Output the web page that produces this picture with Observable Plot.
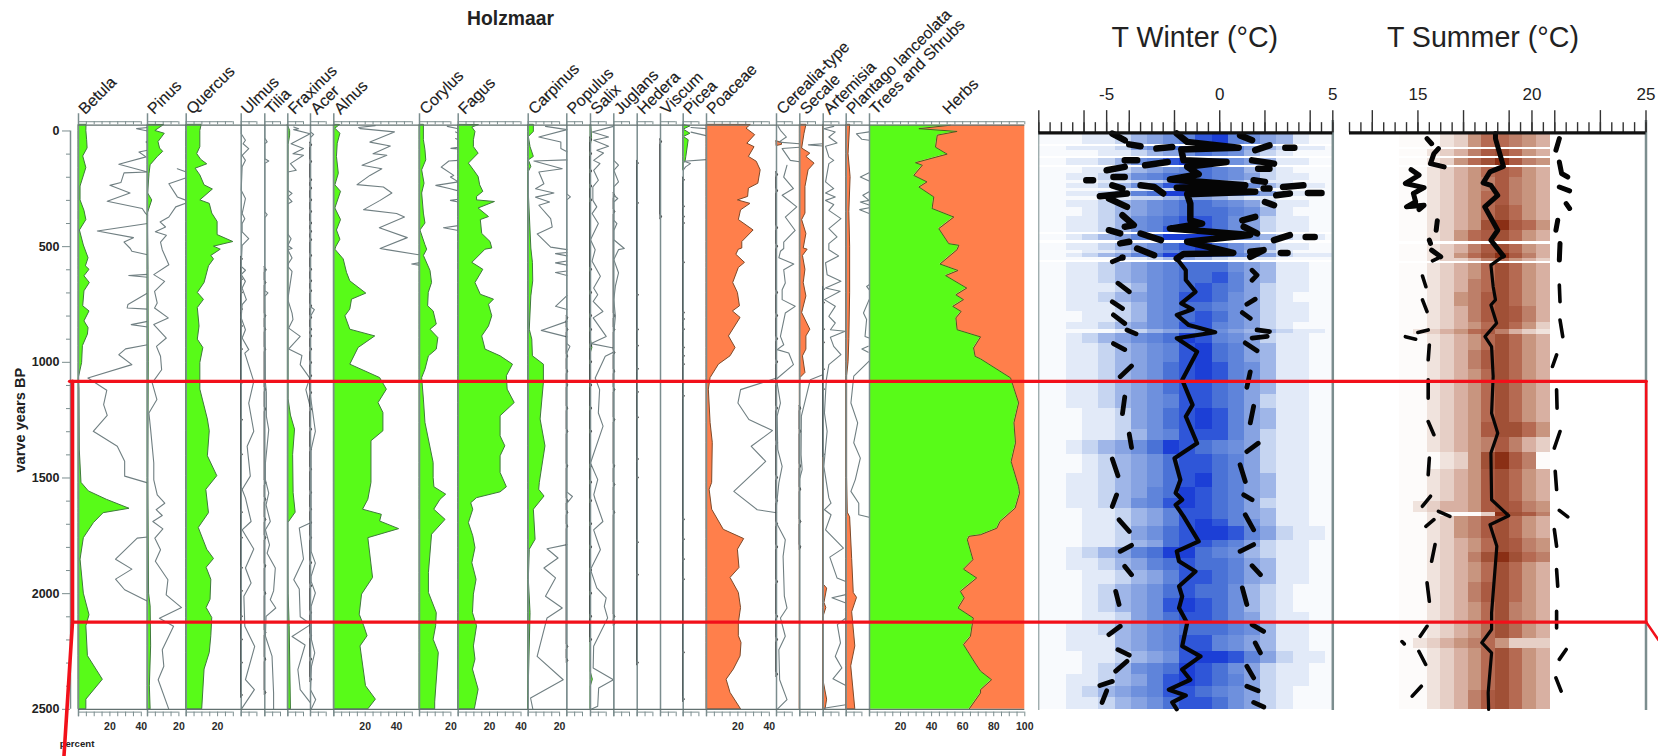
<!DOCTYPE html>
<html><head><meta charset="utf-8">
<style>html,body{margin:0;padding:0;background:#fff;overflow:hidden}#fig{position:relative;width:1658px;height:756px;overflow:hidden}</style>
<script src="https://cdn.jsdelivr.net/npm/d3@7"></script>
<script src="https://cdn.jsdelivr.net/npm/@observablehq/plot@0.6"></script>
</head><body><div id="fig"></div>
<script>
// ---------- pollen series: [age BP, percent]; a null value is a break in the line
const betula=[[-25,5.1],[0,5],[40,5.5],[75,5.8],[110,3],[160,5],[240,1.3],[300,1.3],[345,3.8],[385,5],[430,.9],[495,3.4],[550,6.4],[585,4.7],[600,7],[628,3.8],[657,7.2],[693,3.8],[758,3],[780,7],[823,3.8],[852,6.4],[880,6],[930,2.8],[1003,2.3],[1068,.2],[1118,.6],[1377,.8],[1521,1.9],[1558,6.6],[1594,18],[1633,32.5],[1652,16],[1695,9.8],[1760,3.4],[1853,1.3],[2000,3.4],[2093,7],[2141,5],[2270,6],[2372,15.5],[2458,5],[2500,5]];
const betulaX=[[-15,44],[-10,37],[0,44],[0,null],[44,44],[48,43],[52,44],[52,null],[83,44],[91,38.5],[112,43],[144,25.7],[177,44],[181,29],[223,27],[235,20],[268,32.8],[304,18.3],[335,40.6],[357,42.8],[364,44],[364,null],[400,44],[432,12],[461,35],[480,29],[508,33],[520,34],[535,44],[535,null],[620,44],[625,32],[632,44],[632,null],[700,44],[750,31.5],[765,31],[770,44],[770,null],[823,44],[837,33.6],[847,44],[847,null],[924,44],[942,30],[967,25.7],[1010,34],[1068,6],[1121,18],[1183,16],[1229,18.3],[1298,9.4],[1363,24.7],[1428,29.4],[1492,29.4],[1521,44],[1521,null],[1755,44],[1760,37.4],[1851,23.6],[1894,34],[1937,23.6],[1983,29.4],[2033,44]];
const pinus=[[-25,10.4],[0,5],[12,11],[48,7],[76,8],[90,10],[112,6.6],[148,2],[185,1.3],[270,.4],[300,3],[357,.2],[600,.6],[1000,.8],[1500,.5],[2000,1],[2055,2],[2228,2.3],[2400,1.5],[2500,2]];
const pinusX=[[163,19],[177,24.7],[177,null],[202,24.7],[228,13.6],[285,19],[300,24.7],[300,null],[311,24.7],[328,18],[372,13.6],[393,8],[415,11.5],[436,5],[451,12],[480,8.3],[513,9.4],[578,13.6],[621,4],[650,10.9],[693,4.5],[744,6.2],[765,4.5],[808,13.2],[837,4],[895,12],[931,5.7],[974,8.3],[1032,9],[1089,3],[1161,6],[1219,.9],[1291,2],[1435,4],[1508,4],[1573,6.2],[1609,11],[1637,5.5],[1662,9.4],[1688,3.4],[1720,9.8],[1760,4.7],[1810,8.3],[1860,5],[1940,13],[2005,11.9],[2060,21.7],[2106,7.6],[2141,16.6],[2242,9.4],[2314,10.4],[2372,6.8],[2500,13.6]];
const quercus=[[-25,9.8],[0,9],[70,9],[100,7],[125,9.6],[144,13.4],[163,6],[192,9],[235,11.7],[253,17],[300,9],[315,15],[357,16.6],[393,20],[450,20],[480,30],[500,17.7],[513,22],[540,16],[555,17.7],[585,14.5],[657,11.7],[700,7.4],[730,11.3],[765,7.4],[845,8.5],[902,7.4],[938,10.9],[1003,9],[1118,9],[1161,10.6],[1247,13.8],[1298,15],[1406,13.8],[1492,19.8],[1551,12.8],[1652,14.5],[1716,8],[1810,13.4],[1850,17.7],[1888,13],[1940,16],[2026,15.5],[2062,13],[2105,16.6],[2184,16],[2256,15],[2328,11.7],[2500,10.2]];
const ulmusX=[[-25,0],[12,0],[40,2.7],[55,1.2],[76,4.8],[105,.6],[127,2.7],[155,.6],[256,0],[292,2.7],[357,.6],[379,2.3],[400,.6],[436,.6],[465,4.8],[494,.6],[585,0],[602,2.7],[621,0],[650,2.7],[679,.6],[729,3.3],[751,.6],[808,0],[859,2.7],[895,.6],[945,4.8],[960,2.3],[1082,8],[1176,4.8],[1298,8],[1363,3.8],[1492,5.8],[1550,.6],[1586,2.7],[1688,6.3],[1724,.6],[1807,8],[1889,2.7],[1954,6.3],[2011,1.7],[2141,2.3],[2228,8.6],[2372,2.7],[2415,8.4],[2500,0]];
const tiliaX=[[-25,0],[30,0],[47,1.5],[55,0],[120,0],[130,2.5],[140,0],[350,0],[362,1.5],[375,0],[590,0],[600,1],[610,0],[690,0],[700,2],[715,0],[1089,.4],[1130,1],[1233,1],[1291,2.5],[1435,.4],[1508,.4],[1565,2.5],[1616,.8],[1688,3.5],[1724,.4],[1789,3],[1825,1.5],[1889,6.7],[1988,5.6],[2026,3.5],[2062,7],[2098,.8],[2184,.4],[2270,4.6],[2429,5.6],[2500,5.6]];
const fraxinus=[[-25,0],[0,1.5],[20,1.5],[60,.5],[300,.4],[1160,.5],[1230,2],[1291,4.6],[1400,3.4],[1565,3.7],[1650,5],[1695,.3],[2000,.5],[2140,1.2],[2500,2]];
const fraxinusX=[[-17,3.75],[-10,6.9],[-6,3.75],[12,14.2],[55,2.1],[76,10],[98,3.3],[105,10],[141,1.7],[170,5.4],[177,0],[256,0],[270,2.7],[285,0],[305,2.7],[316,0],[445,0],[466,2.1],[495,0],[508,2.7],[513,0],[549,2.7],[570,.6],[585,0],[607,2.7],[729,0],[787,2.7],[815,3.3],[852,.6],[888,7.9],[942,.6],[970,9],[1010,7.9],[1068,14],[1118,11.5],[1190,14.2],[1190,null],[1695,14.2],[1716,7.3],[1850,10],[1940,3.8],[1980,7.3],[2100,7.9],[2130,14.2],[2130,null],[2135,14.2],[2185,2.7],[2222,11],[2328,6.4],[2415,7.9],[2470,14.2]];
const acerX=[[-25,0],[4,0],[15,2],[29,0],[760,0],[772,2.5],[801,0],[1147,0],[1298,3.1],[1377,.4],[1817,.4],[1868,3.1],[1925,.4],[1947,.4],[1997,3.1],[2055,.4],[2199,.6],[2256,2.7],[2314,.6],[2415,0],[2458,3.3],[2500,.4]];
const alnus=[[-25,3.8],[-10,1],[12,4.2],[55,2.5],[112,2],[185,3.2],[235,1],[263,4.6],[335,1],[385,4.6],[430,2],[470,4.2],[500,1.7],[513,1],[555,6.3],[613,8.4],[650,10.5],[703,20.7],[729,11.6],[772,10.5],[801,7.4],[859,10.5],[888,26.4],[938,15.8],[1010,10.5],[1068,29.5],[1118,33.8],[1176,28.5],[1219,31.6],[1298,31.6],[1341,24],[1521,24],[1594,22],[1637,18.6],[1659,30.6],[1688,29.5],[1721,41.6],[1760,22],[1932,25],[2004,18],[2091,16.5],[2141,19.4],[2184,21.5],[2228,17],[2400,20.5],[2458,26.8],[2500,22]];
const alnusX=[[-23,26.4],[-15,15.8],[-10,17],[4,38.6],[48,23],[65,36],[98,25],[105,33.8],[148,18],[163,30.6],[192,23],[232,14.8],[242,31.6],[268,37],[300,29.5],[340,19],[357,40],[372,45],[418,29],[461,46.8],[508,29.5],[513,33.8],[535,54],[535,null],[570,54],[575,49.6],[580,54]];
const corylus=[[-25,2.8],[40,2.8],[83,3.8],[127,4.3],[170,1.7],[228,3.2],[270,1.7],[357,2.8],[400,3.8],[430,.6],[494,3.8],[513,4.9],[540,2.8],[605,7],[657,8],[700,5.9],[758,5.5],[780,9],[837,11],[859,7],[895,12],[945,11],[974,6],[1032,3.8],[1068,1.7],[1161,2.8],[1262,3.8],[1435,9],[1500,9],[1540,9.5],[1572,17],[1594,13.4],[1637,9.4],[1681,16.6],[1745,8],[1911,6],[1997,6],[2084,11],[2141,10.6],[2199,9],[2256,12.3],[2470,10],[2500,10]];
const corylusX=[[-20,17.7],[-10,24.7],[-10,null],[4,23],[10,24.7],[10,null],[33,23],[38,24.7],[38,null],[70,24.7],[75,20],[78,24.7],[78,null],[127,24.7],[130,18.7],[156,13.8],[192,21.8],[199,19.7],[220,24.7],[235,10.4],[249,19],[259,24.7],[259,null],[295,24.7],[300,19.7],[307,24.7],[307,null],[409,24.7],[418,15.3],[430,24.7]];
const fagus=[[-25,13],[-15,9],[4,11],[40,10],[70,10],[98,13],[141,6.8],[170,10],[199,13],[235,14],[263,16],[285,12],[300,12],[307,23.4],[335,13],[372,19.6],[385,14.4],[445,15.3],[480,20.6],[508,21.7],[513,17.4],[570,9],[600,16],[657,11],[708,14.4],[729,22.8],[751,19.6],[801,21.7],[845,19.6],[888,15.3],[945,17.4],[974,27],[1010,34.9],[1060,31],[1118,31.5],[1176,36],[1233,27],[1320,27],[1363,30],[1406,27],[1478,27],[1540,31],[1562,27],[1587,12],[1609,8.3],[1637,9.6],[1695,6.8],[1752,9.6],[1803,11],[1868,9],[1940,11.7],[2004,10],[2084,9.4],[2141,12],[2228,10],[2285,11],[2328,9.4],[2415,13],[2500,10.6]];
const carpinus=[[-25,3.6],[4,3.6],[26,.4],[70,1.5],[112,3.6],[127,.4],[155,2],[177,.4],[270,.4],[508,2],[570,3],[650,3.2],[715,2],[859,1],[902,2.6],[974,3],[1010,10],[1089,10],[1247,7.9],[1363,11],[1521,7.4],[1551,7],[1580,10.4],[1637,3.6],[1767,4.7],[1810,1],[1940,.4],[2084,1.5],[2444,.2],[2500,0]];
const carpinusX=[[-20,11],[-6,24.7],[26,6.8],[48,20.8],[76,20.8],[90,24.7],[90,null],[125,24.7],[130,3.6],[163,21.7],[177,6.8],[228,10],[250,4.7],[268,16.4],[286,4.7],[307,13.6],[321,6.8],[379,14.3],[415,15.3],[445,5.7],[502,14.3],[513,24.7],[513,null],[525,24.7],[530,17.4],[540,24.7],[540,null],[562,24.7],[570,17.4],[580,24.7],[580,null],[605,24.7],[612,17.4],[625,24.7],[625,null],[712,24.7],[758,17.4],[772,24.7],[772,null],[823,24.7],[862,8.3],[890,24.7],[890,null],[1788,24.7],[1806,12],[1846,19],[1889,10],[1932,17.4],[2011,11],[2062,21.7],[2105,12],[2271,5.7],[2372,22.3],[2451,1.5],[2500,3]];
const populusX=[[-25,0],[272,0],[285,2.3],[298,0],[918,0],[931,2],[960,0],[1560,0],[1580,3.6],[1610,0],[2500,0]];
const salix=[[-25,.5],[30,1],[60,.3],[900,.2],[938,1.2],[960,.2],[2340,.2],[2372,1.5],[2400,.2],[2500,.2]];
const salixX=[[-20,14.6],[4,1],[26,11.5],[40,2],[66,11.5],[83,4],[95,8.3],[127,2],[141,6],[170,2],[213,5],[242,1.5],[300,1.5],[328,4],[357,1],[400,5],[470,0],[513,3],[563,1],[628,6.3],[679,2],[708,4.6],[737,1.7],[780,7.9],[808,1.7],[888,10],[919,.4],[938,14.6],[938,null],[956,14.6],[974,9.4],[1068,3],[1118,5.8],[1219,5],[1276,8],[1435,0],[1507,4.6],[1572,2.1],[1593,3],[1688,7.9],[1724,2],[1810,6.3],[1896,0],[1975,4],[2018,10],[2055,8.8],[2105,10.9],[2227,2],[2321,1.7],[2372,14.6],[2408,5.2],[2487,4.6],[2500,.4]];
const juglansX=[[-25,0],[127,0],[148,3],[170,0],[220,3],[242,0],[278,0],[292,2.5],[307,0],[385,0],[400,2],[430,0],[470,0],[508,6.7],[513,3],[556,0],[613,3],[671,1],[729,0],[801,1],[873,0],[2500,0]];
const picea=[[-25,.5],[-20,4.6],[-6,.3],[12,4.6],[26,.4],[40,3.5],[112,2],[133,1.5],[141,.4],[170,.2]];
const piceaX=[[-15,5],[-10,14.6],[-10,null],[5,5],[20,14.6],[20,null],[124,14.6],[131,.5],[141,4.6],[155,1.5],[170,0]];
const poaceae=[[-25,28],[-10,25.5],[18,31],[55,26],[70,30.6],[112,27],[133,32],[170,34.5],[228,33],[249,27],[285,26.5],[300,20],[315,28],[343,22],[385,20.6],[430,30],[480,22.8],[508,22.8],[513,20.6],[535,19],[570,24.5],[592,20.6],[657,17],[700,20],[758,21.3],[780,16.8],[808,21.7],[888,14.3],[938,18.5],[974,15.3],[1010,7.9],[1068,2.6],[1118,1.5],[1262,2.6],[1348,4],[1521,3.6],[1551,2],[1637,3.6],[1724,11],[1764,24],[1810,20],[1889,21],[1932,15.3],[1997,20.6],[2062,22],[2127,20.6],[2184,20.6],[2213,22.3],[2271,21.7],[2328,17.4],[2372,12.8],[2429,15.3],[2500,22]];
const poaceaeX=[[1068,44.7],[1118,21.7],[1176,20],[1247,27],[1295,42],[1363,28.5],[1428,37.7],[1558,17.4],[1637,32.3],[1650,44.7]];
const cerealia=[[45,0],[50,3.5],[60,3.5],[65,0]];
const cerealiaX=[[-20,1],[-3,2.5],[26,6.3],[48,1.5],[55,14.6],[55,null],[70,14.6],[76,3.6],[127,8.8],[133,14.6],[133,null],[148,6.7],[199,4.6],[249,10.8],[278,3.6],[328,12.9],[372,5.6],[430,11.9],[480,4.6],[508,4.6],[520,2.5],[548,1.5],[575,11],[600,4.6],[657,5.6],[686,3.6],[729,3.6],[758,11.9],[787,5.6],[888,2.5],[924,4.6],[945,.4],[960,7.8],[1010,10.8],[1072,0],[1176,2.5],[1233,.4],[1377,.8],[1450,3.6],[1521,1.5],[1620,0],[1695,0],[1767,5.6],[1839,4.2],[2011,5],[2062,6.7],[2105,2.5],[2184,5.6],[2242,1.5],[2372,2],[2458,6.7],[2500,.4]];
const secale=[[-25,4.2],[12,3],[76,1.5],[98,6.7],[112,4.2],[141,9.4],[170,5.6],[242,3.6],[357,3.6],[385,1.5],[445,4.2],[508,2.5],[513,5],[540,2],[600,3.6],[657,2.5],[715,4.2],[787,1.5],[859,6.7],[888,4.2],[945,4.2],[974,2],[1046,3.6],[1068,.4],[1120,.2],[2500,0]];
const secaleX=[[55,14.6],[60,5.5],[65,14.6],[65,null],[1054,14.6],[1075,6.7],[1161,3.6],[1233,1],[1400,.8],[1464,1.5],[1500,0]];
const artemisia=[[-25,.2],[1960,.2],[1978,2.5],[2040,.8],[2062,2],[2098,.3],[2380,.3],[2458,2.5],[2500,1.5]];
const artemisiaX=[[-20,6.7],[-10,.4],[4,7.7],[26,3.6],[52,8.8],[66,1.5],[112,3.6],[127,6.7],[141,3.6],[220,1.5],[249,6.7],[268,1.5],[285,7.7],[300,1.5],[318,6.7],[343,3.6],[379,11.3],[422,3.6],[458,8.8],[487,3.6],[513,3.6],[540,9.8],[570,1.5],[621,2.5],[650,11.3],[679,1.5],[693,10.8],[729,.8],[758,7.7],[801,3.6],[830,7.7],[859,4.6],[866,14],[892,4.6],[931,6.7],[967,11.3],[1010,3.6],[1075,2],[1219,.8],[1298,2.5],[1450,.4],[1586,3.6],[1609,5],[1637,.8],[1659,5],[1724,1.5],[1803,12.9],[1842,4.2],[1932,8.8],[1947,14.4],[1947,null],[2004,14.4],[2018,5.6],[2040,14.4],[2040,null],[2105,14.4],[2134,9],[2213,11],[2271,7.7],[2321,11.9],[2368,6.2],[2397,14.4],[2397,null],[2480,14.4],[2495,.4]];
const plantago=[[-25,2.5],[100,1.5],[200,2.8],[350,2],[500,2.5],[700,2.5],[900,2],[1000,1.5],[1060,.6],[1500,.6],[1650,1],[1670,2.5],[1850,3.8],[1997,4.8],[2018,6.9],[2080,3.8],[2228,5.8],[2314,3.2],[2500,5.8]];
const plantagoX=[[4,14.6],[12,6.5],[36,10],[40,14.6],[40,null],[181,14.6],[199,9],[216,14.6],[216,null],[263,14.6],[278,10.6],[300,14.6],[307,9],[320,14.6],[320,null],[332,14.6],[340,8.6],[357,14.6],[357,null],[665,14.6],[672,13],[686,14.6],[686,null],[729,14.6],[787,11],[815,13],[888,12],[895,14.6],[895,null],[930,14],[942,10],[956,14],[956,null],[995,14.6],[1060,4.8],[1176,3],[1262,7.3],[1348,4.8],[1414,9],[1507,5.8],[1558,3],[1609,8],[1659,8],[1670,14.6]];
const trees=[[-25,52],[-10,31.8],[2,56.4],[18,43.6],[70,42.5],[100,50],[137,29.6],[148,34],[192,28.5],[220,37],[242,31.8],[285,41.4],[335,40.3],[372,54.3],[422,44.6],[487,51],[494,57.5],[513,56.4],[575,45.4],[603,57],[625,49],[679,62.6],[708,55.6],[729,60.5],[758,53.6],[780,59],[808,55.6],[859,56.4],[890,71.5],[938,67],[974,68],[985,71.5],[1067,90.8],[1175,96],[1261,93],[1348,94],[1429,91.2],[1537,96],[1565,96.6],[1630,93.8],[1688,84],[1717,82],[1745,71.5],[1752,64],[1767,63],[1853,66.6],[1894,60.5],[1932,69],[1990,58.5],[2018,61],[2062,57],[2105,66.8],[2184,65],[2220,60.5],[2300,68],[2335,71.5],[2372,78.6],[2415,71.5],[2429,71.5],[2500,64]];
// ages of the short dark marks that sit on the zero line of the rare taxa
const ulmusMarks=[555,643,700,772,845,945,1090,1250,1400,1550,1650,1760,1890,1990,2100,2200,2300,2440];
const tiliaMarks=[600,657,801,859,945,1118,1204,1521,1594,1681,1760,1882,2000,2170,2285,2429];
const acerMarks=[62,134,213,249,300,350,400,436,472,540,600,650,693,758,808,859,888,945,1003,1060,1133,1204,1291,1377,1464,1565,1637,1695,1760,1868,1968,2084,2184,2285,2372];
const populusMarks=[810,860,975,1040,1100,1200,1300,1450,1600,1650,1710,2230,2290];
const salixMarks=[40,100,175,240,300,600,700,800,860,930,1000,1100,1200,1300,1450,1520,1600,1700,1800,1900,2000,2100,2200];
const juglansMarks=[280,350,800,860,960,1040,1120,1250,1450,1530,1650,2100,2130];
const hederaMarks=[141,313,710,860,930,1030,1130,1240,1420,1500,1780,1920,2300];
const viscumMarks=[48,372];
const piceaMarks=[213,328,372,400,570,787,815,859,938,974,1010,1089,1147,1681,1767,1853,1940,2127,2256,2458];
const artemisiaMarks=[686,744,859,916,1032,1118,1400];
const cerealiaMarks=[190,260,420,500,700,800,900,1000,1090,1200,1350,1500,1600,1700,1800,1950,2100,2200,2350];
const secaleMarks=[1200,1300,1450,1550,1690,1800];

// ---------- temperature reconstructions: [age BP, degrees C]; null = break
const winterMean=[[11,-1.9],[47,-1.44],[72,.84],[80,-1.7],[127,-1.6],[134,.3],[155,-1.44],[187,-.93],[210,-2.2],[235,1.13],[245,-1.9],[263,1.57],[273,-1.44],[314,-1.3],[386,-1.3],[400,-.78],[422,-2.2],[450,1.35],[479,-1.44],[527,.6],[532,-1.6],[551,-1.9],[602,-1.5],[644,-1.5],[695,-1.07],[745,-1.7],[771,-1.2],[795,-1.9],[839,-1.37],[870,-.2],[896,-1.9],[954,-1],[1076,-1.66],[1184,-1.2],[1234,-1.5],[1350,-1],[1415,-2],[1508,-1.74],[1565,-1.95],[1594,-1.66],[1616,-1.95],[1666,-1.6],[1774,-.93],[1817,-1.9],[1860,-1.8],[1904,-1.07],[1968,-1.8],[2012,-1.66],[2062,-1.8],[2127,-1.44],[2227,-1.66],[2271,-.85],[2328,-1.66],[2372,-1.3],[2415,-2.25],[2440,-1.5],[2470,-2.1],[2500,-1.9]];
const winterLow=[[11,-4.75],[40,-4.2],[40,null],[58,-4],[66,-3.5],[66,null],[76,-2.8],[69,-2.1],[69,null],[127,-4.2],[127,-3.65],[127,null],[148,-3.3],[134,-2.3],[134,null],[170,-5],[155,-4.2],[155,null],[199,-4.7],[199,-4.2],[199,null],[213,-5.9],[213,-5.6],[213,null],[235,-4.75],[249,-4.3],[249,null],[235,-3.5],[242,-2.9],[270,-2.5],[270,null],[282,-5.3],[270,-4.1],[270,null],[292,-4.9],[328,-4.1],[328,null],[364,-4.3],[407,-3.8],[414,-4.2],[414,null],[429,-4.9],[443,-4.4],[443,null],[443,-3.5],[472,-2.6],[472,null],[486,-4.4],[479,-4],[479,null],[508,-3.65],[537,-2.9],[537,null],[565,-4.75],[547,-4.3],[547,null],[658,-4.5],[695,-4],[695,null],[738,-4.75],[767,-4.3],[767,null],[795,-4.7],[832,-4.2],[832,null],[860,-4.1],[877,-3.7],[877,null],[919,-4.7],[945,-4.2],[945,null],[1062,-4.4],[1016,-3.9],[1016,null],[1150,-4.2],[1222,-4.3],[1222,null],[1310,-4],[1368,-3.9],[1368,null],[1418,-4.75],[1490,-4.5],[1490,null],[1573,-4.56],[1623,-4.75],[1623,null],[1681,-4.45],[1731,-4],[1731,null],[1817,-4.4],[1791,-3.9],[1791,null],[1882,-4.2],[1918,-3.9],[1918,null],[1990,-4.6],[2047,-4.45],[2047,null],[2177,-4.9],[2141,-4.4],[2141,null],[2242,-4.5],[2266,-4],[2266,null],[2335,-4.6],[2292,-4.1],[2292,null],[2397,-5.3],[2379,-4.75],[2379,null],[2420,-5],[2470,-5.2]];
const winterHigh=[[19,.9],[40,1.43],[40,null],[83,1.57],[62,2.2],[62,null],[72,2.9],[72,3.3],[72,null],[127,1.43],[141,2.4],[141,null],[163,1.7],[163,2.2],[163,null],[213,1.5],[220,2],[220,null],[249,1.94],[249,2.2],[249,null],[242,2.8],[235,3.7],[235,null],[278,2.5],[270,3.1],[270,null],[268,3.9],[268,4.5],[268,null],[307,2],[321,2.4],[321,null],[386,1],[371,1.57],[371,null],[414,1.06],[443,1.65],[443,null],[472,2.4],[450,3.1],[450,null],[458,3.8],[458,4.2],[458,null],[522,1.35],[515,1.94],[544,1.35],[544,null],[527,2.7],[527,3],[527,null],[602,1.43],[623,1.65],[645,1.43],[645,null],[749,1.2],[727,1.57],[727,null],[785,1],[810,1.35],[810,null],[860,1.65],[867,2.2],[867,null],[895,1.43],[888,2.1],[888,null],[916,1.13],[950,1.65],[950,null],[1041,1.35],[1108,1.2],[1108,null],[1190,1.5],[1262,1.35],[1262,null],[1350,1.7],[1386,1.2],[1386,null],[1443,.9],[1515,1.13],[1515,null],[1573,1.06],[1594,1.43],[1594,null],[1659,1.13],[1724,1.5],[1724,null],[1817,.9],[1788,1.5],[1788,null],[1879,1.43],[1918,1.8],[1918,null],[1975,1],[2047,1.2],[2047,null],[2134,1.43],[2163,1.94],[2163,null],[2213,1.57],[2256,1.8],[2256,null],[2314,1.2],[2364,1.5],[2364,null],[2400,1.2],[2420,1.7],[2420,null],[2470,1.5],[2490,1.95]];
const summerMean=[[11,18.4],[33,18.4],[153,18.75],[177,18.16],[224,17.86],[235,18.2],[278,18.5],[328,17.93],[429,18.5],[472,18.2],[541,18.75],[580,18.2],[673,18.3],[730,18.4],[752,18.2],[831,18.45],[889,17.94],[932,18.23],[1061,18.3],[1220,18.23],[1306,18.5],[1392,18.2],[1594,18.23],[1663,18.98],[1702,18.16],[1795,18.46],[2083,18.23],[2155,18.23],[2212,17.8],[2256,18.23],[2428,18.08],[2500,18.1]];
const summerLow=[[33,15.4],[55,15.6],[55,null],[76,15.9],[98,15.7],[141,15.55],[155,16.15],[155,null],[167,14.7],[191,15.05],[227,14.45],[245,15.27],[270,14.8],[306,14.9],[328,14.5],[321,15.27],[340,15.05],[340,null],[388,15.85],[429,15.8],[429,null],[472,15.5],[486,15.55],[486,null],[515,15.6],[544,16],[561,15.64],[561,null],[627,15.2],[673,15.35],[673,null],[730,15.2],[781,15.4],[781,null],[860,15.45],[871,15],[871,null],[889,14.45],[900,14.9],[900,null],[925,15.5],[989,15.45],[989,null],[1076,15.45],[1155,15.45],[1155,null],[1256,15.45],[1313,15.7],[1313,null],[1414,15.5],[1486,15.45],[1486,null],[1622,15.2],[1579,15.55],[1579,null],[1644,15.9],[1666,16.4],[1666,null],[1709,15.35],[1680,15.7],[1680,null],[1860,15.6],[1788,15.75],[1788,null],[1953,15.4],[2033,15.5],[2033,null],[2184,15.1],[2141,15.4],[2141,null],[2207,14.3],[2217,14.4],[2217,null],[2249,15.04],[2306,15.34],[2306,null],[2443,14.75],[2400,15.15]];
const summerHigh=[[33,21.2],[83,21.05],[83,null],[134,21.2],[184,21.3],[199,21.57],[199,null],[242,21.2],[259,21.65],[259,null],[314,21.5],[335,21.65],[335,null],[386,21.13],[429,21.05],[429,null],[486,21.23],[558,21.2],[558,null],[666,21.2],[738,21.23],[738,null],[817,21.23],[889,21.35],[889,null],[968,21.08],[1018,20.9],[1018,null],[1119,21.08],[1198,21.1],[1198,null],[1299,21.23],[1371,20.98],[1371,null],[1471,21.02],[1550,21.08],[1550,null],[1640,21.2],[1668,21.57],[1668,null],[1723,20.98],[1795,21.08],[1795,null],[1896,21.08],[1968,21.13],[1968,null],[2076,21.08],[2148,21.08],[2148,null],[2241,21.5],[2284,21.2],[2284,null],[2364,21.05],[2421,21.28]];
// shaded bands: column edges in degrees C, rows [from age, to age, shade digit per column]
const winterEdges=[-8,-7.5,-6.78,-6.06,-5.35,-4.63,-3.92,-3.2,-2.48,-1.77,-1.05,-.33,.38,1.1,1.82,2.53,3.25,3.97,4.68,5];
const winterRows=[[5,60,"0001123456896543100"],[66,85,"0011124579986432110"],[85,110,"0000112345765321000"],[118,150,"0011235689975431100"],[160,185,"0001123456765321000"],[185,215,"0011235677765421100"],[215,225,"0000112234543211000"],[225,250,"0011235689986532110"],[250,262,"0000011122211100000"],[262,285,"0011236799986542110"],[285,300,"0000112234432110000"],[300,330,"0011234567765421100"],[330,370,"0001234567776531000"],[370,415,"0011235678875421100"],[415,440,"0011235689875421100"],[448,475,"0012346799986532110"],[485,515,"0011234578975431100"],[515,530,"0001123567865321000"],[530,545,"0012346799976542111"],[545,560,"0000011234321110000"],
[568,610,"0011234567775431100"],[610,660,"0011234567786431100"],[660,700,"0011123567876421100"],[700,740,"0011234568875421000"],[740,780,"0011123567765421100"],[780,830,"0001123567875421100"],[830,860,"0011234568865421000"],[860,875,"0000012345654332110"],[875,920,"0012345679865421100"],[920,1000,"0011234568976431100"],[1000,1080,"0011234578986531100"],[1080,1140,"0011234578876431100"],[1140,1200,"0011234568876421100"],[1200,1290,"0001124578986431100"],[1290,1340,"0001123568886421100"],[1340,1400,"0012345798765421100"],[1400,1480,"0001234578876421100"],[1480,1540,"0011234578976431100"],[1540,1590,"0011234679876431100"],[1590,1630,"0011235689876421100"],[1630,1680,"0001123468876431100"],[1680,1710,"0001123468986531100"],[1710,1770,"0001124578998642110"],[1770,1800,"0001123478876421100"],[1800,1850,"0012346799765321100"],[1850,1900,"0011234678776431100"],[1900,1960,"0001123468876431100"],[1960,2020,"0001234578775321000"],[2020,2080,"0001234589875321000"],[2080,2125,"0001124578875421100"],[2125,2180,"0011234567776531100"],[2180,2250,"0011134568865431100"],[2250,2300,"0001123458998642110"],[2300,2350,"0001235679875421100"],[2350,2400,"0011234689876421100"],[2400,2450,"0012345688765421000"],[2450,2500,"0011234578875421000"]];
const summerEdges=[14.2,14.8,15.4,16,16.6,17.2,17.8,18.4,19,19.6,20.2,20.8];
const summerRows=[[5,70,"00012466543"],[78,112,"00123578643"],[120,150,"00124689754"],[158,200,"00123467643"],[200,260,"00123457543"],[260,320,"00123467543"],[320,385,"00123468643"],[385,430,"00123489764"],[430,479,"00124678643"],[489,530,"00123578643"],[530,552,"00124689753"],[552,565,"00122356432"],[572,640,"00123468643"],[640,700,"00123568643"],[700,760,"00124578643"],[760,830,"00123578753"],[830,860,"00123468642"],[860,880,"01234675321"],[880,950,"00123468643"],[950,1030,"00123578643"],[1030,1090,"00123468643"],[1090,1262,"00123468643"],[1262,1326,"00123478864"],[1326,1391,"00123457532"],[1391,1464,"00012489750"],[1464,1600,"00123478643"],[1600,1650,"01233478754"],[1650,1668,"00100029875"],[1668,1760,"00124578643"],[1760,1822,"00123468754"],[1822,1866,"00123589865"],[1866,1950,"00123468643"],[1950,2040,"00123578643"],[2040,2125,"00123468543"],[2125,2195,"00123468643"],[2195,2235,"01234564222"],[2235,2330,"00123468643"],[2330,2420,"00123468643"],[2420,2500,"00123578643"]];
const ageMajor=[0,500,1000,1500,2000,2500];
const ageMinor=[100,200,300,400,600,700,800,900,1100,1200,1300,1400,1600,1700,1800,1900,2100,2200,2300,2400];
const frameAges=[1082,2123];

// ---------- layout and styles
const FONT="Liberation Sans, Arial, sans-serif", W=1658, H=756, K=1.57;
const GREEN="#58fb18", ORANGE="#ff7f4b", GSTROKE="#3f7a3c", OSTROKE="#7e4a2a", AXIS="#7b8d8e", LINE="#707f82";
const bumps=(ages,h=1)=>ages.flatMap(a=>[[a-11,0],[a,h],[a+11,0]]);
const panels=[
 {name:"Betula",x0:78,max:40,area:betula,line:betulaX,fill:GREEN,labels:[20,40]},
 {name:"Pinus",x0:147,max:20,area:pinus,line:pinusX,fill:GREEN,labels:[20]},
 {name:"Quercus",x0:185.7,max:30,area:quercus,fill:GREEN,labels:[20]},
 {name:"Ulmus",x0:240.7,max:10,line:ulmusX,marks:ulmusMarks},
 {name:"Tilia",x0:264.3,max:10,line:tiliaX,marks:tiliaMarks},
 {name:"Fraxinus",x0:287.3,max:10,area:fraxinus,line:fraxinusX,fill:GREEN},
 {name:"Acer",x0:310,max:10,line:acerX,marks:acerMarks},
 {name:"Alnus",x0:333.3,max:50,area:alnus,line:alnusX,fill:GREEN,labels:[20,40]},
 {name:"Corylus",x0:419,max:20,area:corylus,line:corylusX,fill:GREEN,labels:[20]},
 {name:"Fagus",x0:457.7,max:40,area:fagus,fill:GREEN,labels:[20,40]},
 {name:"Carpinus",x0:527.7,max:20,area:carpinus,line:carpinusX,fill:GREEN,labels:[20]},
 {name:"Populus",x0:566.3,max:10,line:populusX,marks:populusMarks},
 {name:"Salix",x0:590,max:10,area:salix,line:salixX,fill:GREEN,marks:salixMarks},
 {name:"Juglans",x0:613.3,max:10,line:juglansX,marks:juglansMarks},
 {name:"Hedera",x0:636.7,max:10,marks:hederaMarks},
 {name:"Viscum",x0:660,max:10,marks:viscumMarks},
 {name:"Picea",x0:682.7,max:10,area:picea,line:piceaX,fill:GREEN,marks:piceaMarks},
 {name:"Poaceae",x0:706,max:40,area:poaceae,line:poaceaeX,fill:ORANGE,labels:[20,40]},
 {name:"Cerealia-type",x0:776,max:10,area:cerealia,line:cerealiaX,fill:ORANGE,marks:cerealiaMarks},
 {name:"Secale",x0:799.3,max:10,area:secale,line:secaleX,fill:ORANGE,marks:secaleMarks},
 {name:"Artemisia",x0:822.7,max:10,area:artemisia,line:artemisiaX,fill:ORANGE,marks:artemisiaMarks},
 {name:"Plantago lanceolata",x0:845.7,max:10,area:plantago,line:plantagoX,fill:ORANGE},
];
const fig=document.getElementById("fig");
const tickRange=(a,b,s)=>d3.range(a,b+1e-6,s);
function layer(x0,x1,domain,marks){
  const svg=Plot.plot({width:W,height:H,marginTop:124.7,marginBottom:46,marginLeft:x0,marginRight:W-x1,
    x:{domain,axis:null},y:{domain:[2505,-25],axis:null},
    style:{background:"none",position:"absolute",left:"0",top:"0",maxWidth:"none",fontFamily:FONT,overflow:"visible"},
    marks});
  fig.appendChild(svg);
}
const fv=d=>d[1], fa=d=>d[0];
function frameMarks(max,labels,step=5){
  const t=tickRange(0,max,step);
  return [
    Plot.ruleY([-40],{x1:0,x2:max,stroke:AXIS,strokeWidth:1}),
    Plot.ruleX(t,{x:d=>d,y1:-40,y2:-27,stroke:AXIS,strokeWidth:1}),
    Plot.ruleY([2512],{x1:0,x2:max,stroke:AXIS,strokeWidth:1}),
    Plot.ruleX(t,{x:d=>d,y1:2512,y2:2532,stroke:AXIS,strokeWidth:1}),
    Plot.text(labels||[],{x:d=>d,y:()=>2575,text:d=>String(d),fontSize:10.5,fontWeight:"bold",fill:"#2b2b2b"})
  ];
}
const LABEL={y:()=>-84,text:d=>d,rotate:-45,textAnchor:"start",dx:3,fontSize:16,fill:"#1c1c1c",stroke:"#1c1c1c",strokeWidth:.15};
// ---- pollen panels
for(const p of panels){
  const x1=p.x0+p.max*K, m=[];
  if(p.area) m.push(Plot.areaX(p.area,{x:fv,y:fa,fill:p.fill,stroke:p.fill===GREEN?GSTROKE:OSTROKE,strokeWidth:1}));
  if(p.marks) m.push(Plot.areaX(bumps(p.marks),{x:fv,y:fa,fill:"#222",stroke:"#222",strokeWidth:1}));
  if(p.line) m.push(Plot.lineX(p.line,{x:fv,y:fa,stroke:LINE,strokeWidth:1.1}));
  m.push(Plot.ruleX([0],{y1:-75,y2:2532,stroke:AXIS,strokeWidth:1.5}));
  m.push(...frameMarks(p.max,p.labels));
  m.push(Plot.text([p.name],{x:()=>0,...LABEL}));
  layer(p.x0,x1,[0,p.max],m);
}
// ---- trees and herbs
layer(869,1024.3,[0,100],[
  Plot.areaX(trees,{x1:fv,x2:()=>100,y:fa,fill:ORANGE}),
  Plot.areaX(trees,{x:fv,y:fa,fill:GREEN}),
  Plot.lineX(trees,{x:fv,y:fa,stroke:"#4f5a22",strokeWidth:1}),
  Plot.ruleX([0],{y1:-75,y2:2532,stroke:AXIS,strokeWidth:1.5}),
  ...frameMarks(100,[20,40,60,80,100]),
  Plot.text(["Trees and Shrubs"],{x:()=>0,...LABEL}),
  Plot.text(["Herbs"],{x:()=>47,...LABEL})
]);
// ---- temperature panels: one colour per shade digit
const winterShade=["#f8fafd","#e2eaf8","#c6d5f1","#9fb6e8","#87a3e2","#6e90dd","#5f84da","#4a72d6","#2f56d8","#1c3fd6"];
const summerShade=["#fdfbfa","#f0e3dd","#e6cfc6","#d8b0a2","#c8957f","#bd7f69","#b56a52","#aa5a42","#a05036","#8a2f15"];
function cells(rows,edges){
  return rows.flatMap(([a,b,s])=>[...s].map((c,i)=>({a,b,t1:edges[i],t2:edges[i+1],v:+c})));
}
const LW={stroke:"#050505",strokeLinecap:"round",strokeLinejoin:"round"};
const upper=(s,limit)=>s.filter(d=>d[0]<limit);
function tempPanel(o){
  const minor=tickRange(o.min,o.max,.5);
  layer(o.x0,o.x1,[o.min,o.max],[
    Plot.rect(cells(o.rows,o.edges),{x1:"t1",x2:"t2",y1:"a",y2:"b",fill:d=>o.shade[d.v],shapeRendering:"crispEdges"}),
    Plot.ruleX(o.rails,{x:d=>d,y1:-45,y2:2505,stroke:AXIS,strokeWidth:d=>d===o.max?2.5:1}),
    Plot.lineX(o.mean,{x:fv,y:fa,strokeWidth:o.lw,...LW}),
    Plot.lineX(o.low,{x:fv,y:fa,strokeWidth:o.dw,...LW}),
    Plot.lineX(o.high,{x:fv,y:fa,strokeWidth:o.dw,...LW}),
    Plot.lineX(upper(o.mean,o.blobTo),{x:fv,y:fa,strokeWidth:o.blob,...LW}),
    Plot.lineX(upper(o.low,o.blobTo),{x:fv,y:fa,strokeWidth:o.blob,...LW}),
    Plot.lineX(upper(o.high,o.blobTo),{x:fv,y:fa,strokeWidth:o.blob,...LW}),
    Plot.ruleX(minor,{x:d=>d,y1:-36,y2:7.8,stroke:"#333",strokeWidth:1.4}),
    Plot.ruleX(o.major,{x:d=>d,y1:-88,y2:7.8,stroke:"#333",strokeWidth:1.4}),
    Plot.ruleY([7.8],{x1:o.axisFrom,x2:o.max,stroke:"#111",strokeWidth:3.2}),
    Plot.text(o.labels,{x:d=>d,y:()=>-156,text:d=>String(d),fontSize:17,fill:"#222"}),
    Plot.text([o.title],{x:()=>o.titleAt,y:()=>-402,text:d=>d,fontSize:28.6,fill:"#222"})
  ]);
}
tempPanel({x0:1038.3,x1:1332.3,min:-8,max:5,rows:winterRows,edges:winterEdges,shade:winterShade,mean:winterMean,low:winterLow,high:winterHigh,
  major:[-8,-6,-5,-4,-2,0,2,4,5],labels:[-5,0,5],title:"T Winter (°C)",titleAt:-1.1,rails:[-8,5],lw:4.2,dw:4.8,blob:6.5,blobTo:560,axisFrom:-8});
tempPanel({x0:1349,x1:1645.5,min:12,max:25,rows:summerRows,edges:summerEdges,shade:summerShade,mean:summerMean,low:summerLow,high:summerHigh,
  major:[13,15,17,19,20,21,23,25],labels:[15,20,25],title:"T Summer (°C)",titleAt:17.85,rails:[25],lw:3.2,dw:3.6,blob:5,blobTo:560,axisFrom:12});
// ---- age axis, overall title, red frame
const RED="#f2101a";
layer(70,W,[70,W],[
  Plot.ruleY([-25,2500],{x1:78,x2:1024.3,stroke:"#62706f",strokeWidth:1.3}),
  Plot.ruleX([70],{y1:0,y2:2500,stroke:AXIS,strokeWidth:1.5}),
  Plot.axisY({anchor:"left",ticks:ageMinor,tickSize:4,tickFormat:()=>"",stroke:AXIS,label:null}),
  Plot.axisY({anchor:"left",ticks:ageMajor,tickSize:8,tickPadding:3,fontWeight:"bold",fontSize:12.5,fill:"#222",stroke:AXIS,tickFormat:d=>String(d),label:null}),
  Plot.text(["varve years BP"],{x:()=>20,y:()=>1250,text:d=>d,rotate:-90,fontSize:14.6,fontWeight:"bold",fill:"#222"}),
  Plot.text(["percent"],{x:()=>76.5,y:()=>2648,text:d=>d,fontSize:9.6,fontWeight:"bold",fill:"#222"}),
  Plot.text(["Holzmaar"],{x:()=>510,y:()=>-483,text:d=>d,fontSize:19.3,fontWeight:"bold",fill:"#222"}),
  Plot.line([[1645.7,frameAges[0]],[69,frameAges[0]]],{x:d=>d[0],y:d=>d[1],stroke:RED,strokeWidth:3.2}),
  Plot.line([[1645.7,frameAges[1]],[72,frameAges[1]]],{x:d=>d[0],y:d=>d[1],stroke:RED,strokeWidth:3.2}),
  Plot.line([[72,frameAges[0]],[72,frameAges[1]],[63.5,2700]],{x:d=>d[0],y:d=>d[1],stroke:RED,strokeWidth:3.6}),
  Plot.line([[1645.7,frameAges[0]],[1645.7,frameAges[1]],[1658,2200]],{x:d=>d[0],y:d=>d[1],stroke:RED,strokeWidth:2.6})
]);
</script></body></html>
